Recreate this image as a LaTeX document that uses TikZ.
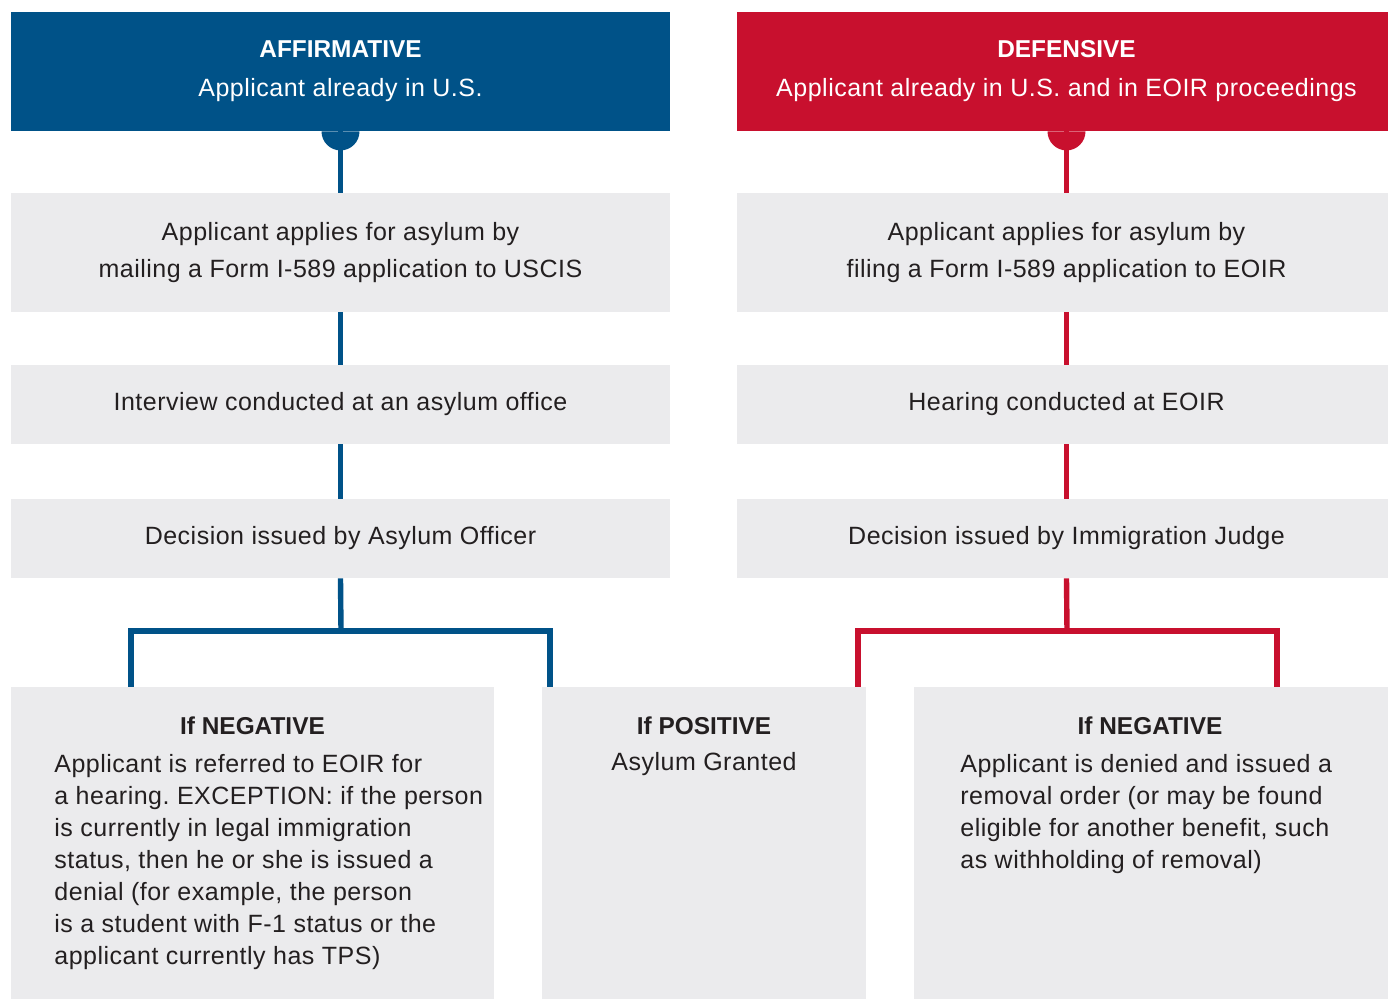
\documentclass[tikz,border=0pt]{standalone}
\usepackage{fontspec}
\setmainfont{Liberation Sans}
\newfontfamily\bodyfont[LetterSpace=2]{Liberation Sans}
\definecolor{ablue}{HTML}{005288}
\definecolor{dred}{HTML}{C8102E}
\definecolor{boxgray}{HTML}{EBEBED}
\definecolor{ink}{HTML}{231F20}
\frenchspacing
\begin{document}
\frenchspacing
\begin{tikzpicture}[x=0.5pt,y=-0.5pt,
  hdr/.style={inner sep=0pt, text=white, align=center, font=\bodyfont\fontsize{12.5}{19.5}\selectfont},
  stepbox/.style={fill=boxgray, inner sep=0pt, text=ink, align=center, font=\bodyfont\fontsize{12.5}{18.5}\selectfont},
  outbox/.style={fill=boxgray, inner sep=0pt, anchor=north west},
  ttl/.style={inner sep=0pt, text=ink, font=\rmfamily\fontsize{12.2}{16}\selectfont\bfseries},
  body/.style={inner sep=0pt, text=ink, align=left, anchor=north west, font=\bodyfont\fontsize{12.5}{16}\selectfont\frenchspacing},
  bl/.style={draw=ablue, line width=2.7pt, line join=miter},
  rl/.style={draw=dred, line width=2.7pt, line join=miter}]
\useasboundingbox[fill=white] (0,0) rectangle (1388,999);
\clip (0,0) rectangle (1388,999);
% headers
\node[hdr, fill=ablue, minimum width=329.5pt, minimum height=59.5pt] (h1) at (340.5,71.5)
  {{\rmfamily\bfseries\fontsize{12.2}{19.5}\selectfont AFFIRMATIVE}\\Applicant already in U.S.};
\node[hdr, fill=dred, minimum width=329.5pt, minimum height=59.5pt] (h2) at (1066.5,71.5)
  {{\rmfamily\bfseries\fontsize{12.2}{19.5}\selectfont DEFENSIVE}\\Applicant already in U.S. and in EOIR proceedings};
% left column
\node[stepbox, minimum width=329.5pt, minimum height=59.5pt] (a1) at (340.5,252.5)
  {Applicant applies for asylum by\\mailing a Form I-589 application to USCIS};
\node[stepbox, minimum width=329.5pt, minimum height=39.5pt] (a2) at (340.5,404.5)
  {Interview conducted at an asylum office};
\node[stepbox, minimum width=329.5pt, minimum height=39.5pt] (a3) at (340.5,538.5)
  {Decision issued by Asylum Officer};
% right column
\node[stepbox, minimum width=329.5pt, minimum height=59.5pt] (d1) at (1066.5,252.5)
  {Applicant applies for asylum by\\filing a Form I-589 application to EOIR};
\node[stepbox, minimum width=329.5pt, minimum height=39.5pt] (d2) at (1066.5,404.5)
  {Hearing conducted at EOIR};
\node[stepbox, minimum width=329.5pt, minimum height=39.5pt] (d3) at (1066.5,538.5)
  {Decision issued by Immigration Judge};
% outcome boxes
\node[outbox, minimum width=241.5pt, minimum height=160pt] (nl) at (11,687) {};
\node[outbox, minimum width=162pt, minimum height=160pt] (pm) at (542,687) {};
\node[outbox, minimum width=241.5pt, minimum height=160pt] (nr) at (914,687) {};
\node[ttl] (nlt) at (252.5,726) {If NEGATIVE};
\node[body] (nlb) at (54,754) {Applicant is referred to EOIR for\\a hearing. EXCEPTION: if the person\\is currently in legal immigration\\status, then he or she is issued a\\denial (for example, the person\\is a student with F-1 status or the\\applicant currently has TPS)};
\node[ttl] (pmt) at (704,726) {If POSITIVE};
\node[inner sep=0pt, text=ink, font=\bodyfont\fontsize{12.5}{16}\selectfont] (pmb) at (704,764) {Asylum Granted};
\node[ttl] (nrt) at (1150,726) {If NEGATIVE};
\node[body] (nrb) at (960,754) {Applicant is denied and issued a\\removal order (or may be found\\eligible for another benefit, such\\as withholding of removal)};
% connectors: affirmative
\fill[ablue] ([xshift=-9.5pt]h1.south) arc[start angle=180, end angle=360, radius=9.5pt] -- cycle;
\draw[bl] (h1.south) -- (a1.north);
\draw[bl] (a1.south) -- (a2.north);
\draw[bl] (a2.south) -- (a3.north);
\coordinate (ja) at (341,631);
\coordinate (al) at (131,687);
\coordinate (ar) at (550,687);
\draw[bl] (a3.south) -- (ja);
\draw[bl] (al) -- (al |- ja) -- (ar |- ja) -- (ar);
% connectors: defensive
\fill[dred] ([xshift=-9.5pt]h2.south) arc[start angle=180, end angle=360, radius=9.5pt] -- cycle;
\draw[rl] (h2.south) -- (d1.north);
\draw[rl] (d1.south) -- (d2.north);
\draw[rl] (d2.south) -- (d3.north);
\coordinate (jd) at (1067,631);
\coordinate (dl) at (858,687);
\coordinate (dr) at (1277,687);
\draw[rl] (d3.south) -- (jd);
\draw[rl] (dl) -- (dl |- jd) -- (dr |- jd) -- (dr);
\end{tikzpicture}
\end{document}
